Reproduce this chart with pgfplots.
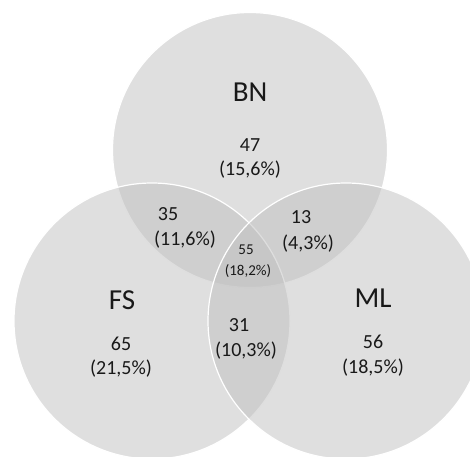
\documentclass[border=0pt]{standalone}
\usepackage{pgfplots}
\pgfplotsset{compat=1.18}
\usepackage{fontspec}
\setmainfont{Carlito}
\definecolor{venn}{RGB}{191,191,191}
\definecolor{txt}{RGB}{25,25,25}
\begin{document}
\begin{tikzpicture}
\begin{axis}[
  name=ax,
  scale only axis, width=470pt, height=456pt,
  xmin=0, xmax=470, ymin=0, ymax=456, y dir=reverse,
  hide axis, clip=true,
]
% circles: centre x, centre y, radius
\draw[white, line width=1.2pt, fill=venn, fill opacity=0.5] (axis cs:250,150) circle[radius=137.5];
\draw[white, line width=1.2pt, fill=venn, fill opacity=0.5] (axis cs:152,321) circle[radius=138];
\draw[white, line width=1.2pt, fill=venn, fill opacity=0.5] (axis cs:346,321) circle[radius=138];
% set names
\node[txt, font=\fontsize{29}{32}\selectfont] at (axis cs:250,92) {BN};
\node[txt, font=\fontsize{29}{32}\selectfont] at (axis cs:122,300) {FS};
\node[txt, font=\fontsize{29}{32}\selectfont] at (axis cs:373,298) {ML};
% counts
\begin{scope}[every node/.style={txt, font=\fontsize{20}{24}\selectfont}]
\node at (axis cs:250,145) {47};
\node at (axis cs:250,170) {(15,6\%)};
\node at (axis cs:168,214) {35};
\node at (axis cs:185,240) {(11,6\%)};
\node at (axis cs:301,217) {13};
\node at (axis cs:308,244) {(4,3\%)};
\node at (axis cs:121,344) {65};
\node at (axis cs:121,369) {(21,5\%)};
\node at (axis cs:239,325) {31};
\node at (axis cs:246,351) {(10,3\%)};
\node at (axis cs:373,342) {56};
\node at (axis cs:373,368) {(18,5\%)};
\end{scope}
\node[txt, font=\fontsize{15}{18}\selectfont] at (axis cs:246,250) {55};
\node[txt, font=\fontsize{15}{18}\selectfont] at (axis cs:248,271) {(18,2\%)};
\end{axis}
\pgfresetboundingbox
\path[use as bounding box] (ax.south west) rectangle (ax.north east);
\end{tikzpicture}
\end{document}
